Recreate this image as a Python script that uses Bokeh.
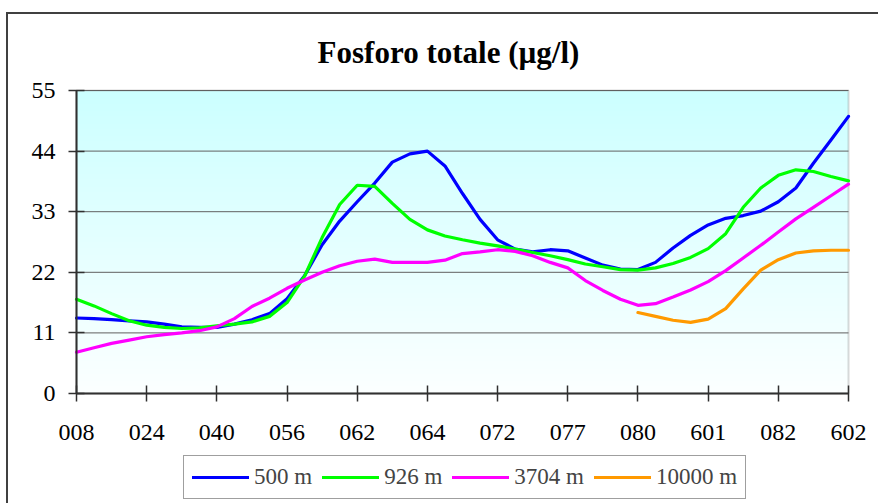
import numpy as np
from bokeh.plotting import figure
from bokeh.models import Range1d, FixedTicker, Legend, LegendItem, BoxAnnotation, Label, LinearAxis
from bokeh.embed import file_html
from bokeh.resources import INLINE

nan = float("nan")

# category labels shown every 4th sampling point
tick_labels = ["008", "024", "040", "056", "062", "064", "072", "077", "080", "601", "082", "602"]
label_step = 4
y_ticks = [0, 11, 22, 33, 44, 55]

series_names = ["500 m", "926 m", "3704 m", "10000 m"]
series_colors = ["#0000FF", "#00FF00", "#FF00FF", "#FF9900"]

s500 = [13.7, 13.6, 13.4, 13.2, 13.0, 12.6, 12.1, 12.0, 12.0, 12.6, 13.4, 14.5, 17.2, 21.4, 27.0,
        31.3, 34.8, 38.2, 42.0, 43.5, 44.0, 41.3, 36.3, 31.6, 27.9, 26.2, 25.7, 26.1, 25.9, 24.6,
        23.3, 22.6, 22.5, 23.8, 26.4, 28.7, 30.6, 31.8, 32.3, 33.1, 34.8, 37.3, 41.8, 46.0, 50.3]
s926 = [17.1, 15.9, 14.5, 13.2, 12.4, 12.0, 11.8, 11.9, 12.3, 12.6, 13.0, 14.0, 16.5, 21.3, 28.3,
        34.3, 37.8, 37.6, 34.5, 31.6, 29.7, 28.6, 27.9, 27.3, 26.8, 26.2, 25.6, 25.0, 24.3, 23.5,
        23.0, 22.5, 22.4, 22.8, 23.6, 24.7, 26.3, 29.0, 33.8, 37.3, 39.6, 40.6, 40.3, 39.4, 38.6]
s3704 = [7.5, 8.3, 9.1, 9.7, 10.3, 10.7, 11.0, 11.4, 12.1, 13.6, 15.8, 17.3, 19.1, 20.6, 22.0,
         23.2, 24.0, 24.4, 23.8, 23.8, 23.8, 24.2, 25.4, 25.7, 26.1, 25.8, 25.0, 23.8, 22.8, 20.5,
         18.7, 17.1, 16.0, 16.3, 17.5, 18.8, 20.3, 22.3, 24.6, 26.9, 29.3, 31.7, 33.8, 35.9, 38.0]
s10000 = [nan] * 32 + [14.7, 14.0, 13.3, 12.9, 13.5, 15.4, 19.0, 22.4, 24.3, 25.5, 25.9, 26.0, 26.0]

series = [s500, s926, s3704, s10000]
x = list(range(len(s500)))
x_max = x[-1]
y_max = y_ticks[-1]

# layout (pixels): plot area 772 x 303 inside a larger frame that also holds title and legend
area_w, area_h = 772, 303
space_left, space_right = 19, 30
space_above, space_below = 76, 117
ux = x_max / area_w
uy = y_max / area_h

p = figure(frame_width=area_w + space_left + space_right,
           frame_height=area_h + space_above + space_below,
           output_backend="svg", toolbar_location=None, title=None,
           x_range=Range1d(-space_left * ux, x_max + space_right * ux),
           y_range=Range1d(-space_below * uy, y_max + space_above * uy),
           min_border_left=49, min_border_right=0, min_border_top=0, min_border_bottom=0)
p.margin = (12, 0, 0, 6)
p.styles = {"border-top": "2px solid #404040", "border-left": "2px solid #404040"}
p.background_fill_color = "white"
p.border_fill_color = "white"
p.outline_line_color = None

# gradient background of plot area
n = 120
img = np.empty((n, 1), dtype=np.uint32)
view = img.view(dtype=np.uint8).reshape((n, 1, 4))
t = np.linspace(0, 1, n)
view[:, 0, 0] = (252 - 48 * t).astype(np.uint8)
view[:, 0, 1] = 255
view[:, 0, 2] = 255
view[:, 0, 3] = 255
bg = p.image_rgba(image=[img], x=0, y=0, dw=x_max, dh=y_max)
bg.level = "image"

# horizontal grid lines limited to the plot area
p.xgrid.grid_line_color = None
p.ygrid.grid_line_color = None
p.segment(x0=[0] * len(y_ticks), x1=[x_max] * len(y_ticks), y0=y_ticks, y1=y_ticks,
          line_color="#606060", line_width=1)

# plot-area border (top / right)
p.add_layout(BoxAnnotation(left=0, right=x_max, bottom=0, top=y_max, fill_alpha=0,
                           line_color="#808080", line_width=2, level="underlay"))

renderers = []
for vals, col in zip(series, series_colors):
    r = p.line(x, vals, line_color=col, line_width=3.2, line_join="round", line_cap="round")
    renderers.append(r)

# x axis (drawn at y = 0)
xt = [i * label_step for i in range(len(tick_labels))]
xa = p.xaxis[0]
xa.ticker = FixedTicker(ticks=xt)
xa.major_label_overrides = {v: lab for v, lab in zip(xt, tick_labels)}
xa.fixed_location = 0
xa.bounds = (0, x_max)
xa.major_label_standoff = 23

# y axis labels (left panel)
ya = p.yaxis[0]
ya.ticker = FixedTicker(ticks=y_ticks)
ya.bounds = (0, y_max)
ya.axis_line_color = None
ya.major_tick_line_color = None
ya.major_tick_in = 0
ya.major_tick_out = 0
ya.major_label_standoff = 2

# y axis line and ticks (drawn at x = 0)
yl = LinearAxis(ticker=FixedTicker(ticks=y_ticks), fixed_location=0, bounds=(0, y_max),
                major_label_overrides={v: "" for v in y_ticks}, major_label_standoff=0,
                major_label_text_color=None)
p.add_layout(yl, "right")

for ax in (xa, ya, yl):
    ax.minor_tick_line_color = None
    ax.major_label_text_font = "Liberation Serif"
    ax.major_label_text_font_size = "24px"
for ax in (xa, yl):
    ax.axis_line_color = "#303030"
    ax.axis_line_width = 2
    ax.major_tick_line_color = "#303030"
    ax.major_tick_line_width = 1.5
    ax.major_tick_in = 8
    ax.major_tick_out = 8
xa.major_label_text_color = "black"
ya.major_label_text_color = "black"

# title
p.add_layout(Label(x=372 * ux, y=y_max + 38 * uy, text="Fosforo totale (µg/l)",
                   text_align="center", text_baseline="alphabetic",
                   text_font="Liberation Serif", text_font_size="31px", text_font_style="bold",
                   text_color="black"))

legend = Legend(items=[LegendItem(label=nm, renderers=[r]) for nm, r in zip(series_names, renderers)],
                orientation="horizontal", location=(107 + space_left, 11),
                label_text_font="Liberation Serif", label_text_font_size="23px",
                glyph_width=57, glyph_height=20, label_standoff=5, spacing=10, padding=8,
                label_height=26, border_line_color="#404040", border_line_width=1,
                background_fill_color="white", margin=0)
p.add_layout(legend, "center")

open("out.html", "w").write(file_html(p, INLINE))
